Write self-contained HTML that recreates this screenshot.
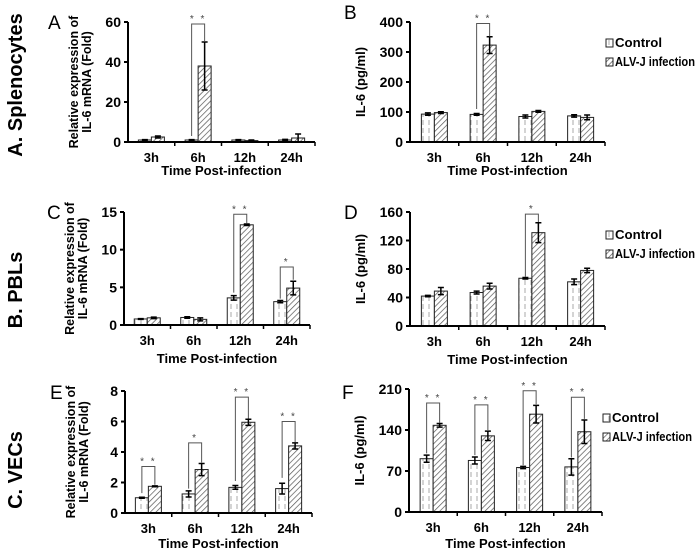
<!DOCTYPE html>
<html><head><meta charset="utf-8"><style>
body{margin:0;background:#fff;}
svg{display:block;font-family:"Liberation Sans",Arial,sans-serif;}
</style></head><body>
<svg id="fig" width="700" height="556" viewBox="0 0 700 556" xmlns="http://www.w3.org/2000/svg">
<defs>
<pattern id="hatch" patternUnits="userSpaceOnUse" width="4" height="4" patternTransform="rotate(45)">
<rect width="4" height="4" fill="#fff"/><line x1="0" y1="0" x2="0" y2="4" stroke="#555" stroke-width="1.4"/></pattern>
<pattern id="dash" patternUnits="userSpaceOnUse" width="6" height="8">
<rect width="6" height="8" fill="#fff"/><line x1="3" y1="0" x2="3" y2="5" stroke="#aaa" stroke-width="1"/></pattern>
</defs>
<g id="root"></g>
</svg>
<script>
const categories = ["3h","6h","12h","24h"];
// Panel A
const aCtrl=[1,1,1,1], aCtrlErr=[0.2,0.2,0.2,0.3], aInf=[2.5,38,0.7,2], aInfErr=[0.5,12,0.3,2];
const aTicks=[0,20,40,60];
const aBrackets=[[1,59,3,50.5]];
// Panel B
const bCtrl=[93,92,85,87], bCtrlErr=[4,3,5,4], bInf=[98,323,102,82], bInfErr=[3,28,3,8];
const bTicks=[0,100,200,300,400];
const bBrackets=[[1,395,110,352]];
// Panel C
const cCtrl=[0.8,1.0,3.6,3.1], cCtrlErr=[0.05,0.1,0.3,0.15], cInf=[0.95,0.75,13.3,4.9], cInfErr=[0.1,0.2,0.1,0.9];
const cTicks=[0,5,10,15];
const cBrackets=[[2,14.7,4.3,13.5],[3,7.7,3.5,6.0]];
// Panel D
const dCtrl=[42,47,67,62], dCtrlErr=[1,2,1,4], dInf=[49,56,131,78], dInfErr=[5,4,14,3];
const dTicks=[0,40,80,120,160];
const dBrackets=[[2,157,69,146]];
// Panel E
const eCtrl=[1.0,1.25,1.68,1.6], eCtrlErr=[0.03,0.2,0.12,0.35], eInf=[1.75,2.85,5.95,4.4], eInfErr=[0.03,0.4,0.2,0.2];
const eTicks=[0,2,4,6,8];
const eBrackets=[[0,3.05,1.3,1.85],[1,4.6,1.6,3.3],[2,7.6,2.1,6.2],[3,6.0,2.3,4.65]];
// Panel F
const fCtrl=[91,88,76,77], fCtrlErr=[6,6,2,14], fInf=[148,130,167,137], fInfErr=[3,8,15,20];
const fTicks=[0,70,140,210];
const fBrackets=[[0,186,100,152],[1,183,97,140],[2,207,80,184],[3,196,93,159]];

const NS="http://www.w3.org/2000/svg";
const root=document.getElementById('root');
function mk(tag,attrs,parent,text){const e=document.createElementNS(NS,tag);for(const k in attrs)e.setAttribute(k,attrs[k]);if(text!==undefined)e.textContent=text;(parent||root).appendChild(e);return e;}

function panel(p){
  const g=mk('g',{});
  
  
  const yMax=p.ticks[p.ticks.length-1];
  const Y=v=>p.y0-(v/yMax)*(p.y0-p.y1);
  const step=(p.x1-p.x0)/categories.length;
  const X=i=>p.x0+step*(i+0.5);
  const bw=13;
  categories.forEach((c,i)=>{
    const cx=X(i);
    const r1=mk('rect',{x:cx-bw,y:Y(p.ctrl[i]),width:bw,height:p.y0-Y(p.ctrl[i]),fill:'url(#dash)',stroke:'#222','stroke-width':1},g);
    
    
    const r2=mk('rect',{x:cx,y:Y(p.inf[i]),width:bw,height:p.y0-Y(p.inf[i]),fill:'url(#hatch)',stroke:'#222','stroke-width':1},g);
    
    
    [[cx-bw/2,p.ctrl[i],p.ctrlErr[i]],[cx+bw/2,p.inf[i],p.infErr[i]]].forEach(([ex,v,e])=>{
      const eg=mk('path',{d:`M${ex},${Y(v+e)}V${Y(v-e)}M${ex-3},${Y(v+e)}H${ex+3}M${ex-3},${Y(v-e)}H${ex+3}`,stroke:'#000','stroke-width':1.5,fill:'none'},g);
      
      
    });
    const t=mk('text',{x:cx,y:p.y0+20,'text-anchor':'middle','font-size':13,'font-weight':'bold'},g,c);
    
    
  });
  p.brackets.forEach(b=>{
    const [i,top,l,r]=b;const cx=X(i);
    const br=mk('path',{d:`M${cx-bw/2},${Y(l)}V${Y(top)}H${cx+bw/2}V${Y(r)}`,stroke:'#555','stroke-width':1,fill:'none'},g);
    
    
    const s=mk('text',{x:cx,y:Y(top)-2,'text-anchor':'middle','font-size':10,fill:'#444','letter-spacing':'2'},g,p.stars[i]||'* *');
    
    
  });
  const ax=mk('path',{d:`M${p.x0},${p.y1}V${p.y0}H${p.x1}`,stroke:'#000','stroke-width':2,fill:'none'},g);
  
  
  p.ticks.forEach(t=>{
    mk('line',{x1:p.x0-4,x2:p.x0,y1:Y(t),y2:Y(t),stroke:'#000','stroke-width':2},g);
    const tl=mk('text',{x:p.x0-7,y:Y(t)+5,'text-anchor':'end','font-size':14,'font-weight':'bold'},g,t);
    
    
  });
  for(let i=1;i<=categories.length;i++)mk('line',{x1:p.x0+step*i,x2:p.x0+step*i,y1:p.y0,y2:p.y0+4,stroke:'#000','stroke-width':1.5},g);
  const xt=mk('text',{x:(p.x0+p.x1)/2,y:p.y0+p.xtOff,'text-anchor':'middle','font-size':13,'font-weight':'bold'},g,'Time Post-infection');
  
  
  const ym=(p.y0+p.y1)/2;
  if(p.twoLine){
    const y1=mk('text',{transform:`translate(${p.x0-50},${ym}) rotate(-90)`,'text-anchor':'middle','font-size':12.5,'font-weight':'bold'},g,'Relative expression of');
    
    
    const y2=mk('text',{transform:`translate(${p.x0-37},${ym}) rotate(-90)`,'text-anchor':'middle','font-size':12.5,'font-weight':'bold'},g,'IL-6 mRNA (Fold)');
    
    
  } else {
    const y1=mk('text',{transform:`translate(${p.x0-45},${ym}) rotate(-90)`,'text-anchor':'middle','font-size':13,'font-weight':'bold'},g,'IL-6 (pg/ml)');
    
    
  }
  const pl=mk('text',{x:p.lx,y:p.ly,'font-size':19},g,p.id);
  
  
  if(p.legend){
    const lg=mk('g',{},g);
    
    
    [['Control','url(#dash)',p.legend[1],47],['ALV-J infection','url(#hatch)',p.legend[1]+19,80]].forEach(([n,f,yy,w])=>{
      const e=mk('g',{},lg);
      
      
      mk('rect',{x:p.legend[0],y:yy-8,width:7,height:8,fill:f,stroke:'#222','stroke-width':1},e);
      mk('text',{x:p.legend[0]+9,y:yy,'font-size':12.5,'font-weight':'bold',textLength:w,lengthAdjust:'spacingAndGlyphs'},e,n);
    });
  }
}
panel({id:'A',x0:128,x1:315,y0:142,y1:22,ticks:aTicks,ctrl:aCtrl,ctrlErr:aCtrlErr,inf:aInf,infErr:aInfErr,brackets:aBrackets,stars:{},twoLine:true,lx:48,ly:29,xtOff:33});
panel({id:'B',x0:410,x1:605,y0:142,y1:22,ticks:bTicks,ctrl:bCtrl,ctrlErr:bCtrlErr,inf:bInf,infErr:bInfErr,brackets:bBrackets,stars:{},twoLine:false,lx:344,ly:19,xtOff:33,legend:[606,47]});
panel({id:'C',x0:124,x1:310,y0:325,y1:212,ticks:cTicks,ctrl:cCtrl,ctrlErr:cCtrlErr,inf:cInf,infErr:cInfErr,brackets:cBrackets,stars:{3:'*'},twoLine:true,lx:47,ly:219,xtOff:38});
panel({id:'D',x0:410,x1:605,y0:326,y1:212,ticks:dTicks,ctrl:dCtrl,ctrlErr:dCtrlErr,inf:dInf,infErr:dInfErr,brackets:dBrackets,stars:{2:'*'},twoLine:false,lx:344,ly:219,xtOff:38,legend:[606,239]});
panel({id:'E',x0:125,x1:312,y0:513,y1:391,ticks:eTicks,ctrl:eCtrl,ctrlErr:eCtrlErr,inf:eInf,infErr:eInfErr,brackets:eBrackets,stars:{1:'*'},twoLine:true,lx:50,ly:399,xtOff:35});
panel({id:'F',x0:409,x1:602,y0:512,y1:389,ticks:fTicks,ctrl:fCtrl,ctrlErr:fCtrlErr,inf:fInf,infErr:fInfErr,brackets:fBrackets,stars:{},twoLine:false,lx:342,ly:399,xtOff:36,legend:[603,422]});
[['A. Splenocytes',85],['B. PBLs',290],['C. VECs',470]].forEach(([t,y])=>{
  const r=mk('text',{transform:`translate(22,${y}) rotate(-90)`,'text-anchor':'middle','font-size':20,'font-weight':'bold'},root,t);
  
  
});
</script>
</body></html>
